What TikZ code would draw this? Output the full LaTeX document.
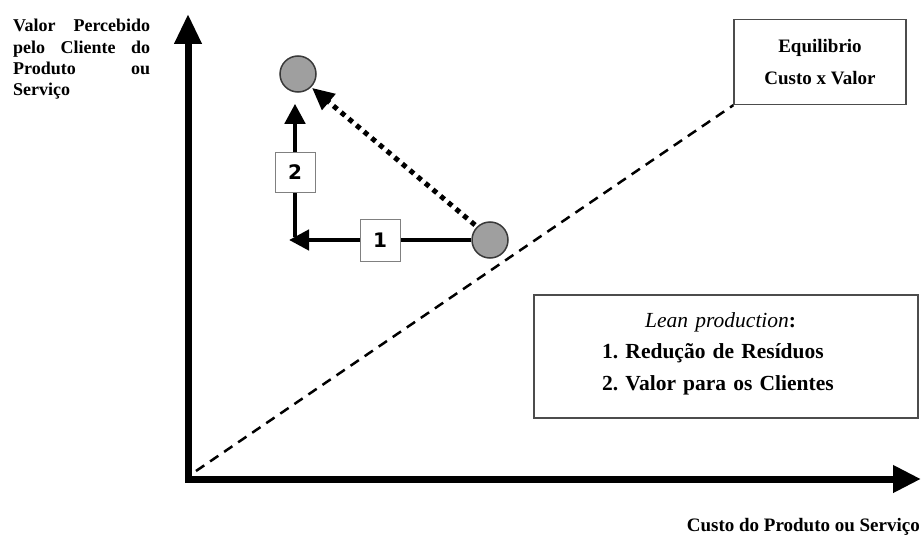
\documentclass[tikz,border=0pt]{standalone}
\usepackage{fontspec}
\setmainfont{Liberation Serif}
\newfontfamily\digitfont{DejaVu Sans}
\usepackage{xcolor}
\usepackage{tikz}
\usetikzlibrary{arrows.meta,calc}
\frenchspacing
\hyphenpenalty=10000
\exhyphenpenalty=10000

\begin{document}
\begin{tikzpicture}[x=1pt,y=-1pt,
	axis/.style={line width=7pt,line join=miter},
	dot/.style={circle,fill=gray!75,draw=gray!45!black,line width=1.5pt,minimum size=36pt,inner sep=0pt},
	move/.style={line width=4.5pt,-{Triangle[length=20pt,width=20pt]}},
	numbox/.style={draw=gray,fill=white,line width=1pt,minimum width=40pt,minimum height=42pt,inner sep=0pt,font=\digitfont\bfseries\fontsize{20}{20}\selectfont},
	infobox/.style={draw=gray!60!black,line width=1.3pt,fill=white}]
	\useasboundingbox (0,0) rectangle (921,535);

	% axes
	\coordinate (O) at (188,479);
	\coordinate (ytip) at (188,14);
	\coordinate (xtip) at (921,479);
	\draw[axis,{Triangle[length=30pt,width=26pt]}-{Triangle[length=28pt,width=26pt]}] (ytip) -- (O) -- (xtip);
	\node[anchor=base west,inner sep=0pt,text width=137pt,align=justify,font=\bfseries\fontsize{18}{21.3}\selectfont] (ylab) at (13,32) {Valor Percebido\linebreak pelo Cliente do\linebreak Produto ou\linebreak Serviço};
	\node[anchor=base east,inner sep=0pt,font=\bfseries\fontsize{19}{20}\selectfont] (xlab) at (920,531) {Custo do Produto ou Serviço};

	% equilibrium line
	\node[infobox,minimum width=172pt,minimum height=85pt,align=center,font=\bfseries\fontsize{19}{32}\selectfont] (eq) at (820,62) {Equilibrio\\Custo x Valor};
	\draw[line width=2.5pt,dash pattern=on 10pt off 7pt] ($(O)+(8,-8)$) -- (eq.south west);

	% lean production
	\node[infobox,minimum width=384pt,minimum height=123pt] (lean) at (726,356.5) {};
	\node[anchor=base west,inner sep=0pt,text width=250pt,align=left,font=\bfseries\fontsize{21.5}{31.5}\selectfont] (leantxt) at (602,327) {\hspace*{43pt}{\mdseries\itshape Lean production}:\\1. Redução de Resíduos\\2. Valor para os Clientes};

	% moves
	\node[dot] (low) at (490,240) {};
	\node[dot] (up) at (298,74) {};
	\coordinate (c1) at (289,240);
	\coordinate (c2) at (295,237);
	\coordinate (d1) at ($(low)+(-15,-15)$);
	\draw[move] (low.west) -- node[numbox,pos=0.5] (n1) {1} (c1);
	\draw[move,shorten >=11pt] (c2) -- node[numbox,pos=0.45,minimum height=40pt] (n2) {2} (c2 |- up.south);
	\draw[line width=5pt,dash pattern=on 5pt off 5pt,-{Triangle[length=22pt,width=20pt]},shorten >=1pt] (d1) -- (up.south east);
\end{tikzpicture}
\end{document}
